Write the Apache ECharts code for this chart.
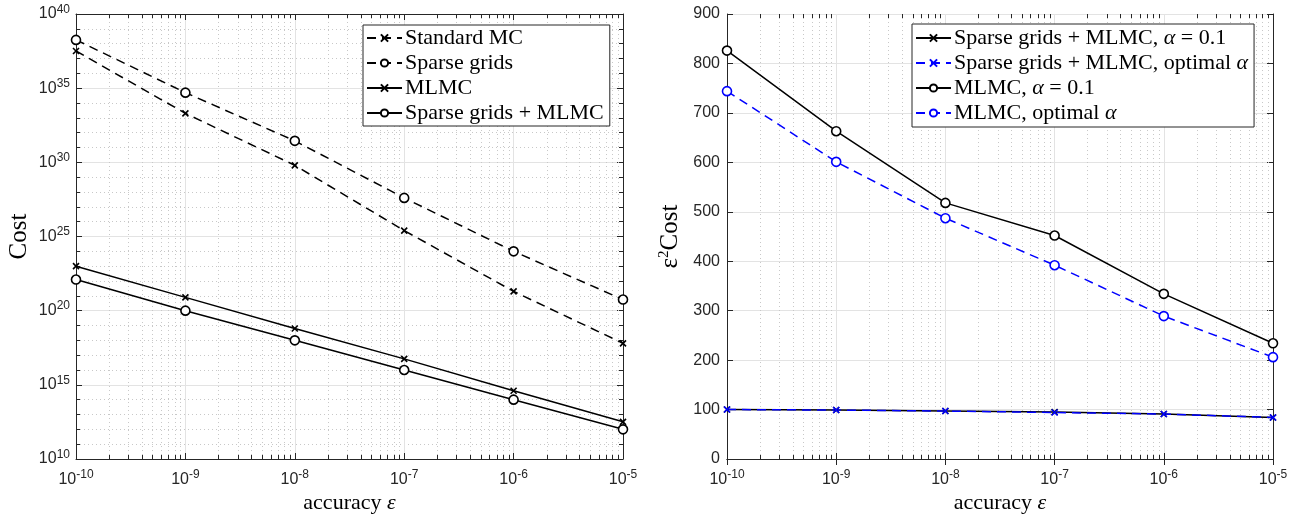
<!DOCTYPE html>
<html>
<head>
<meta charset="utf-8">
<script src="https://cdn.jsdelivr.net/npm/echarts@6/dist/echarts.min.js"></script>
<style>html,body{margin:0;padding:0;background:#fff;}#c{width:1299px;height:517px;}</style>
</head>
<body>
<div id="c"></div>
<script>
// ---- data ----
const accuracy = [1e-10, 1e-9, 1e-8, 1e-7, 1e-6, 1e-5];
// left panel: Cost
const costStandardMC = [3.2e37, 2.0e33, 6.3e29, 2.5e25, 2.0e21, 6.3e17];
const costSparseGrids = [1.8e38, 5.0e34, 2.8e31, 4.0e27, 1.0e24, 5.6e20];
const costMLMC = [1.0e23, 7.9e20, 6.3e18, 5.6e16, 4.0e14, 3.2e12];
const costSGMLMC = [1.26e22, 1.0e20, 1.0e18, 1.0e16, 1.0e14, 1.0e12];
// right panel: eps^2 Cost
const e2SGMLMCfixed = [100, 99, 97, 95, 91, 84];
const e2SGMLMCopt = [100, 99, 97, 94, 91, 84];
const e2MLMCfixed = [826, 663, 518, 452, 334, 234];
const e2MLMCopt = [744, 601, 487, 392, 289, 206];
// tick label exponents for left y axis
const leftYMinExp = 10, leftYMaxExp = 40, leftYStep = 5;
const rightYMin = 0, rightYMax = 900, rightYStep = 100;

// ---- helpers ----
const pair = (xs, ys) => xs.map((x, i) => [x, ys[i]]);
const AX = '#262626';
const MAJ = '#e3e3e3';
const MIN = '#c8c8c8';
const SANS = 'Liberation Sans';
const SERIF = 'Liberation Serif';
const CROSS = 'path://M0,0 L10,10 M10,0 L0,10';
const supRich = {
  b: {fontFamily: SANS, fontSize: 16, color: AX},
  s: {fontFamily: SANS, fontSize: 12, color: AX, verticalAlign: 'bottom', padding: [0, 0, 9, 0]}
};
const logLabel = v => '{b|10}{s|' + Math.round(Math.log10(v)) + '}';
const nameRich = {
  i: {fontFamily: SERIF, fontStyle: 'italic', fontSize: 22, color: '#000'}
};

function xAxes(grid) {
  return [{
    type: 'log', logBase: 10, gridIndex: grid, min: 1e-10, max: 1e-5, position: 'bottom',
    axisLine: {lineStyle: {color: AX, width: 1}},
    axisTick: {inside: true, length: 6, lineStyle: {color: AX}},
    axisLabel: {formatter: logLabel, rich: supRich, margin: 10},
    splitLine: {show: true, lineStyle: {color: MAJ, width: 1}},
    minorTick: {show: false}, minorSplitLine: {show: false},
    name: 'accuracy {i|ε}', nameLocation: 'middle', nameGap: 33, nameMoveOverlap: false,
    nameTextStyle: {fontFamily: SERIF, fontSize: 22, color: '#000', rich: nameRich}
  }, {
    type: 'log', logBase: 10, gridIndex: grid, min: 1e-10, max: 1e-5, position: 'top',
    axisLine: {lineStyle: {color: AX, width: 1}},
    axisTick: {inside: true, length: 6, lineStyle: {color: AX}},
    axisLabel: {show: false}, splitLine: {show: false}
  }];
}

// minor vertical grid lines + minor ticks at 2..9 x 10^n (log axis decoration)
const minorX = [];
for (let n = -10; n < -5; n++) for (let k = 2; k <= 9; k++) minorX.push(k * Math.pow(10, n));
function minorGrid(xi, yi, yLo, yHi) {
  return {
    type: 'custom', xAxisIndex: xi, yAxisIndex: yi, silent: true, z: 1, animation: false,
    data: minorX.map(x => [x, yLo]),
    renderItem: (params, api) => {
      const x = api.value(0);
      const p0 = api.coord([x, yLo]);
      const p1 = api.coord([x, yHi]);
      const px = Math.round(p0[0]) + 0.5;
      return {type: 'group', children: [
        {type: 'line', shape: {x1: px, y1: p0[1], x2: px, y2: p1[1]},
         style: {stroke: MIN, lineWidth: 1, lineDash: [1, 3]}},
        {type: 'line', shape: {x1: px, y1: p0[1], x2: px, y2: p0[1] - 4},
         style: {stroke: AX, lineWidth: 1}},
        {type: 'line', shape: {x1: px, y1: p1[1], x2: px, y2: p1[1] + 4},
         style: {stroke: AX, lineWidth: 1}}
      ]};
    }
  };
}

function line(name, xi, yi, data, color, dashed, symbol) {
  return {
    name, type: 'line', xAxisIndex: xi, yAxisIndex: yi, data,
    symbol: symbol === 'x' ? CROSS : 'circle',
    symbolSize: symbol === 'x' ? 6 : 9,
    showSymbol: true,
    itemStyle: {color: symbol === 'x' ? color : '#ffffff', borderColor: color, borderWidth: 1.6},
    lineStyle: {color, width: 1.5, type: dashed ? [9, 6] : 'solid'},
    emphasis: {disabled: true}, animation: false, z: 5
  };
}

const legendCommon = {
  orient: 'vertical', backgroundColor: '#fff',
  borderColor: AX, borderWidth: 1, borderRadius: 0,
  itemWidth: 35, itemHeight: 9, itemGap: 3, selectedMode: false
};

const option = {
  animation: false,
  backgroundColor: '#fff',
  grid: [
    {left: 76, right: 676, top: 14, bottom: 58, containLabel: false, outerBoundsMode: 'none'},
    {left: 727, right: 26, top: 14, bottom: 58, containLabel: false, outerBoundsMode: 'none'}
  ],
  xAxis: [...xAxes(0), ...xAxes(1)],
  yAxis: [
    // 0: data log axis (left panel)
    {type: 'log', logBase: 10, gridIndex: 0, min: Math.pow(10, leftYMinExp), max: Math.pow(10, leftYMaxExp), show: false},
    // 1: visible exponent axis for labels / grid
    {type: 'value', gridIndex: 0, min: leftYMinExp, max: leftYMaxExp, interval: leftYStep, position: 'left',
     axisLine: {show: true, lineStyle: {color: AX}},
     axisTick: {show: true, inside: true, length: 6, lineStyle: {color: AX}},
     minorTick: {show: true, splitNumber: 5, length: 4, lineStyle: {color: AX}},
     axisLabel: {formatter: v => '{b|10}{s|' + v + '}', rich: supRich, margin: 6},
     splitLine: {show: true, lineStyle: {color: MAJ}},
     minorSplitLine: {show: true, lineStyle: {color: MIN, type: [1, 3]}},
     name: 'Cost', nameLocation: 'middle', nameGap: 44, nameMoveOverlap: false,
     nameTextStyle: {fontFamily: SERIF, fontSize: 25, color: '#000'}},
    // 2: right mirror
    {type: 'value', gridIndex: 0, min: leftYMinExp, max: leftYMaxExp, interval: leftYStep, position: 'right',
     axisLine: {show: true, lineStyle: {color: AX}},
     axisTick: {show: true, inside: true, length: 6, lineStyle: {color: AX}},
     minorTick: {show: true, splitNumber: 5, length: 4, lineStyle: {color: AX}},
     axisLabel: {show: false}, splitLine: {show: false}},
    // 3: right panel
    {type: 'value', gridIndex: 1, min: rightYMin, max: rightYMax, interval: rightYStep, position: 'left',
     axisLine: {show: true, lineStyle: {color: AX}},
     axisTick: {show: true, inside: true, length: 6, lineStyle: {color: AX}},
     axisLabel: {fontFamily: SANS, fontSize: 16, color: AX, margin: 7},
     splitLine: {show: true, lineStyle: {color: MAJ}},
     name: 'ε{sp|2}Cost', nameLocation: 'middle', nameGap: 44, nameMoveOverlap: false,
     nameTextStyle: {fontFamily: SERIF, fontSize: 25, color: '#000',
       rich: {sp: {fontFamily: SERIF, fontSize: 15, color: '#000', verticalAlign: 'bottom', padding: [0, 0, 11, 0]}}}},
    {type: 'value', gridIndex: 1, min: rightYMin, max: rightYMax, interval: rightYStep, position: 'right',
     axisLine: {show: true, lineStyle: {color: AX}},
     axisTick: {show: true, inside: true, length: 6, lineStyle: {color: AX}},
     axisLabel: {show: false}, splitLine: {show: false}}
  ],
  legend: [
    Object.assign({}, legendCommon, {
      data: ['Standard MC', 'Sparse grids', 'MLMC', 'Sparse grids + MLMC'],
      left: 363, top: 25, padding: [2, 6, 2, 3],
      textStyle: {fontFamily: SERIF, fontSize: 22, color: '#000', lineHeight: 22, padding: [0, 0, 0, -2]}
    }),
    Object.assign({}, legendCommon, {
      data: ['Sparse grids + MLMC, α = 0.1 ', 'Sparse grids + MLMC, optimal α', 'MLMC, α = 0.1', 'MLMC, optimal α'],
      left: 912, top: 24, padding: [3, 6, 3, 3],
      formatter: n => n.trim().replace(/α/g, '{i|α}'),
      textStyle: {fontFamily: SERIF, fontSize: 22, color: '#000', lineHeight: 22, padding: [0, 0, 0, -2],
        rich: {i: {fontFamily: SERIF, fontStyle: 'italic', fontSize: 22, color: '#000'}}}
    })
  ],
  series: [
    minorGrid(0, 0, Math.pow(10, leftYMinExp), Math.pow(10, leftYMaxExp)),
    minorGrid(2, 3, rightYMin, rightYMax),
    line('Standard MC', 0, 0, pair(accuracy, costStandardMC), '#000', true, 'x'),
    line('Sparse grids', 0, 0, pair(accuracy, costSparseGrids), '#000', true, 'o'),
    line('MLMC', 0, 0, pair(accuracy, costMLMC), '#000', false, 'x'),
    line('Sparse grids + MLMC', 0, 0, pair(accuracy, costSGMLMC), '#000', false, 'o'),
    line('Sparse grids + MLMC, α = 0.1 ', 2, 3, pair(accuracy, e2SGMLMCfixed), '#000', false, 'x'),
    line('Sparse grids + MLMC, optimal α', 2, 3, pair(accuracy, e2SGMLMCopt), '#0000ff', true, 'x'),
    line('MLMC, α = 0.1', 2, 3, pair(accuracy, e2MLMCfixed), '#000', false, 'o'),
    line('MLMC, optimal α', 2, 3, pair(accuracy, e2MLMCopt), '#0000ff', true, 'o')
  ]
};
const chart = echarts.init(document.getElementById('c'), null, {renderer: 'canvas'});
chart.setOption(option);
</script>
</body>
</html>
